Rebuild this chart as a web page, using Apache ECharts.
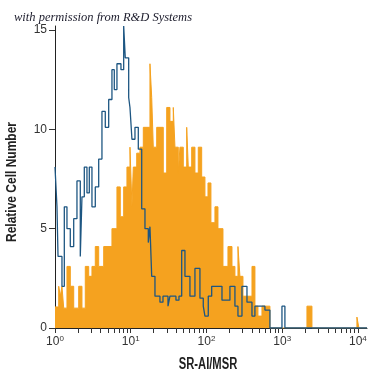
<!DOCTYPE html>
<html>
<head>
<meta charset="utf-8">
<script src="https://cdn.jsdelivr.net/npm/echarts@6/dist/echarts.min.js"></script>
<style>
  html, body { margin: 0; padding: 0; background: #fff; }
  #main-chart { width: 375px; height: 375px; }
</style>
</head>
<body>
<div id="main-chart"></div>
<script>
// x positions are log10 of the fluorescence intensity (bin starts), y is the count
const blueEdges = [0.000, 0.026, 0.040, 0.092, 0.123, 0.158, 0.202, 0.247, 0.290, 0.334, 0.356, 0.387, 0.422, 0.453, 0.488, 0.532, 0.577, 0.620, 0.664, 0.709, 0.752, 0.783, 0.818, 0.871, 0.907, 0.928, 0.973, 0.990, 1.016, 1.056, 1.100, 1.145, 1.188, 1.232, 1.254, 1.277, 1.320, 1.386, 1.426, 1.492, 1.518, 1.597, 1.637, 1.673, 1.716, 1.782, 1.848, 1.914, 1.958, 1.980, 2.024, 2.069, 2.205, 2.310, 2.376, 2.416, 2.469, 2.535, 2.601, 2.640, 2.772, 2.838, 2.997, 3.036, 4.120]
const blueCounts = [8.1, 6.1, 3.6, 2.1, 6.1, 5.0, 4.1, 5.5, 7.4, 3.6, 6.6, 8.1, 6.8, 8.1, 6.1, 7.1, 8.5, 10.9, 10.1, 11.5, 13.0, 12.0, 13.3, 13.0, 15.2, 13.6, 11.6, 11.1, 9.5, 10.1, 9.0, 6.0, 5.0, 4.3, 5.1, 2.6, 1.6, 1.3, 1.6, 1.1, 1.6, 1.4, 1.6, 3.9, 2.6, 1.6, 3.0, 1.5, 1.1, 0.6, 1.6, 2.1, 1.4, 2.1, 1.1, 0.6, 2.1, 1.3, 0.6, 1.1, 0.9, 0, 1.1, 0, 0]

const orangeEdges = [0.000, 0.049, 0.070, 0.092, 0.115, 0.158, 0.202, 0.247, 0.313, 0.356, 0.400, 0.445, 0.488, 0.532, 0.577, 0.643, 0.752, 0.818, 0.862, 0.907, 0.950, 0.990, 1.016, 1.034, 1.079, 1.122, 1.166, 1.254, 1.277, 1.298, 1.343, 1.430, 1.475, 1.518, 1.562, 1.584, 1.628, 1.650, 1.694, 1.739, 1.760, 1.805, 1.848, 1.892, 1.937, 1.980, 2.020, 2.059, 2.112, 2.152, 2.218, 2.284, 2.337, 2.376, 2.416, 2.442, 2.482, 2.601, 2.640, 2.680, 2.733, 2.838, 3.327, 3.393, 3.987, 4.013, 4.120]
const orangeCounts = [1.06, 2.1, 1.6, 2.1, 1.0, 3.1, 2.1, 1.0, 2.1, 1.0, 3.1, 2.6, 3.1, 4.1, 3.1, 4.1, 5.0, 7.1, 5.6, 7.1, 8.1, 9.1, 6.1, 8.1, 8.8, 9.1, 10.1, 13.3, 11.6, 9.1, 10.1, 7.8, 11.1, 10.4, 11.1, 9.1, 7.8, 9.1, 8.1, 10.1, 8.1, 9.1, 7.8, 9.1, 7.6, 6.6, 7.3, 5.3, 6.1, 5.0, 3.1, 4.1, 3.1, 2.6, 4.1, 2.6, 1.6, 3.1, 1.1, 0.6, 1.1, 0, 1.1, 0, 0.55, 0, 0]

const xMajorTicks = [0, 1, 2, 3, 4]
const yTicks = [0, 5, 10, 15]

// minor log ticks 2..9 inside each decade
const xMinorTicks = []
for (let d = 0; d < 4; d++) {
  for (let k = 2; k <= 9; k++) xMinorTicks.push(d + Math.log10(k))
}

const labelFont = '"Liberation Sans", Arial, sans-serif'

const myChart = echarts.init(document.getElementById('main-chart'))

const option = {
  animation: false,
  title: {
    text: 'with permission from R&D Systems',
    left: 9,
    top: 6,
    textStyle: {
      fontFamily: '"Liberation Serif", "DejaVu Serif", serif',
      fontStyle: 'italic',
      fontWeight: 'normal',
      fontSize: 12.5,
      color: '#1c1c2c'
    }
  },
  // axis titles drawn as graphic text so they can be squeezed like the condensed original
  graphic: [
    {
      type: 'text',
      x: 208,
      y: 365,
      scaleX: 0.7,
      style: {
        text: 'SR-AI/MSR',
        font: 'bold 16px ' + labelFont,
        fill: '#222',
        align: 'center',
        verticalAlign: 'middle'
      }
    },
    {
      type: 'text',
      x: 12,
      y: 182,
      rotation: Math.PI / 2,
      scaleX: 0.8,
      style: {
        text: 'Relative Cell Number',
        font: 'bold 15px ' + labelFont,
        fill: '#222',
        align: 'center',
        verticalAlign: 'middle'
      }
    }
  ],
  grid: { left: 55, right: 8, top: 26, bottom: 47 },
  xAxis: {
    type: 'value',
    min: 0,
    max: 4.12,
    axisLine: { lineStyle: { color: '#222', width: 1 } },
    axisTick: {
      customValues: xMajorTicks.concat(xMinorTicks),
      length: 5,
      lineStyle: { color: '#333' }
    },
    axisLabel: {
      customValues: xMajorTicks,
      margin: 7,
      formatter: v => '{b|10}{s|' + Math.round(v) + '}',
      rich: {
        b: { fontFamily: labelFont, fontSize: 12, color: '#333', lineHeight: 14 },
        s: { fontFamily: labelFont, fontSize: 8, color: '#333', verticalAlign: 'top' }
      }
    },
    splitLine: { show: false }
  },
  yAxis: {
    type: 'value',
    min: 0,
    max: 15.2,
    axisLine: { show: true, lineStyle: { color: '#222', width: 1 } },
    axisTick: { show: true, customValues: yTicks, length: 6, lineStyle: { color: '#333' } },
    axisLabel: { customValues: yTicks, margin: 8, fontFamily: labelFont, fontSize: 12, color: '#333' },
    splitLine: { show: false }
  },
  series: [
    {
      name: 'antibody',
      type: 'line',
      step: 'end',
      symbol: 'none',
      data: orangeEdges.map((x, i) => [x, orangeCounts[i]]),
      lineStyle: { color: '#F5A21F', width: 1 },
      areaStyle: { color: '#F5A21F', opacity: 1 },
      z: 2
    },
    {
      name: 'isotype',
      type: 'line',
      step: 'end',
      symbol: 'none',
      data: blueEdges.map((x, i) => [x, blueCounts[i]]),
      lineStyle: { color: '#1d5682', width: 1.3 },
      z: 3
    }
  ]
}

myChart.setOption(option)
</script>
</body>
</html>
